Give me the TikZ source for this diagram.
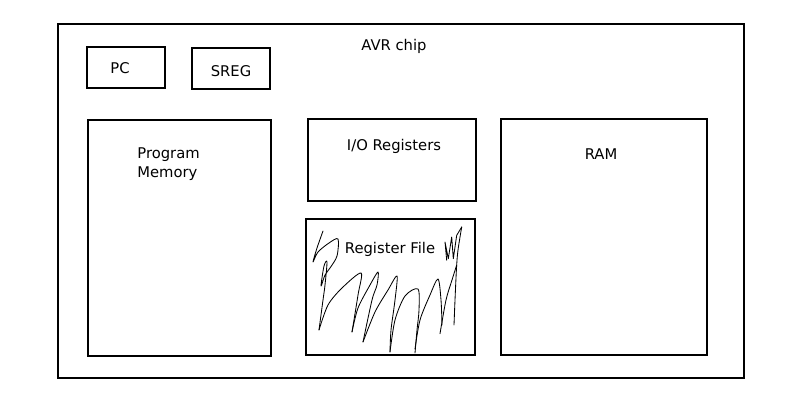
\documentclass[tikz,border=0pt]{standalone}
\usepackage{fontspec}
\setmainfont{DejaVu Sans}
\usetikzlibrary{positioning}

\begin{document}
\begin{tikzpicture}[x=0.025cm,y=-0.025cm,semithick,
    box/.style={draw=black,line width=1.4pt,inner sep=0pt},
    lbl/.style={font=\fontsize{10.5}{13.5}\selectfont,inner sep=0pt},
    scrib/.style={line width=0.6pt,line join=round,line cap=round}]
            \useasboundingbox (0,0) rectangle (800,400);
            \node[box,minimum width=17.15cm,minimum height=8.85cm](Chip)at(401, 201){};
            \node[box,minimum width=1.95cm,minimum height=1.025cm](PC)at(126, 67.5){};
            \node[box,minimum width=1.95cm,minimum height=1.025cm](SREG)at(231, 68.5){};
            \node[box,minimum width=4.575cm,minimum height=5.9cm](Prog)at(179.5, 238){};
            \node[box,minimum width=4.2cm,minimum height=2.05cm](IO)at(392, 160){};
            \node[box,minimum width=4.225cm,minimum height=3.4cm](RF)at(390.5, 287){};
            \node[box,minimum width=5.15cm,minimum height=5.9cm](RAM)at(604, 237){};
            \node[lbl](ChipText)at(394, 46){AVR chip};
            \node[lbl](PCText)at(120, 68){PC};
            \node[lbl](SREGText)at(231, 71){SREG};
            \node[lbl,align=left,anchor=west](ProgText)at(137, 164){Program\\Memory};
            \node[lbl](IOText)at(394, 146){I/O Registers};
            \node[lbl](RFText)at(390, 249){Register File};
            \node[lbl](RAMText)at(601, 154){RAM};
            % scribbles in the register file
            \draw[scrib] plot[smooth] coordinates {(323,231) (317,248) (313,262) (318,252) (329,243) (338,239) (337,256) (330,268) (325,275) (321,286) (324,266) (327,262) (325,285) (323,300) (319,330)};
            \draw[scrib] plot[smooth] coordinates {(319,330) (328,305) (342,288) (361,273) (358,295) (352,332)};
            \draw[scrib] plot[smooth] coordinates {(352,332) (358,308) (370,285) (378,272) (377,285) (372,300) (363,342)};
            \draw[scrib] plot[smooth] coordinates {(363,342) (375,312) (388,290) (397,276) (395,300) (391,330) (390,352)};
            \draw[scrib] plot[smooth] coordinates {(390,352) (395,320) (405,296) (418,289) (419,310) (417,330) (415,353)};
            \draw[scrib] plot[smooth] coordinates {(415,349) (420,320) (430,295) (438,279) (441,300) (442,325)};
            \draw[scrib] plot coordinates {(446.7,260.3) (445,242) (448.3,258.7) (451.7,237) (453.3,258.7) (456.7,235.3) (461.7,227)};
            \draw[scrib] plot[smooth] coordinates {(461.7,227) (458,250) (456.5,268) (455,300) (454,325)};
            \draw[scrib] plot[smooth] coordinates {(440,333.7) (446,300) (452,280) (456.7,265)};
        \end{tikzpicture}
\end{document}
